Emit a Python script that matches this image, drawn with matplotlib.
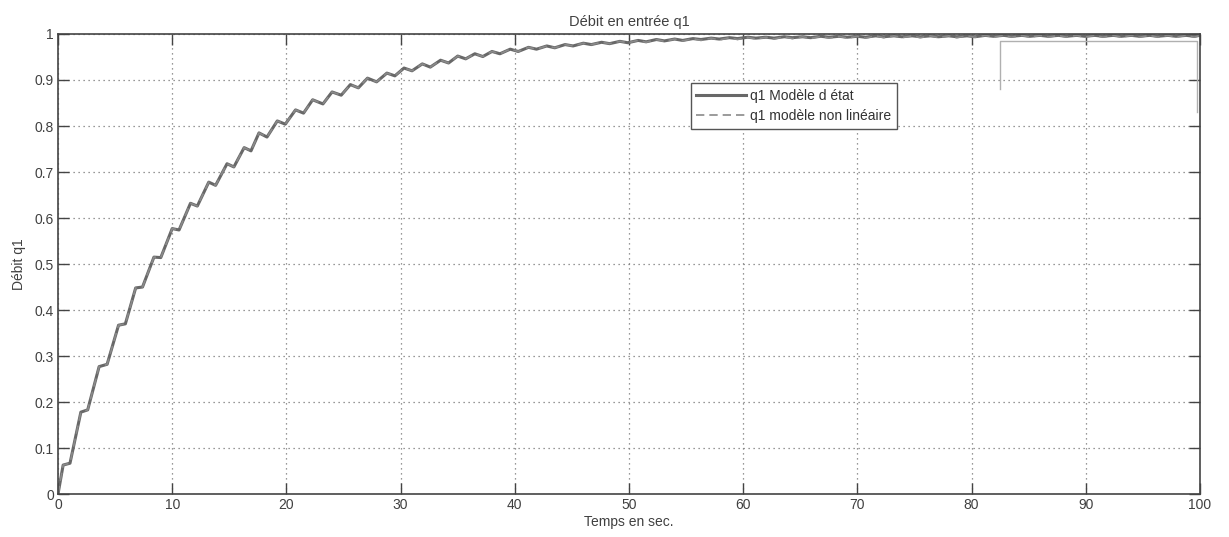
import numpy as np
import matplotlib
matplotlib.use("Agg")
from matplotlib import pyplot as plt
from matplotlib.patches import Rectangle

# ripple peaks / valleys (time in s, q1)
t_peak = [0.45, 2.0, 3.6, 5.3, 6.8, 8.4, 10.0, 11.6, 13.2, 14.8, 16.3, 17.6, 19.2, 20.8,
          22.3, 24.0, 25.6, 27.1, 28.8, 30.3, 31.9, 33.5, 35.0, 36.5, 38.0, 39.6, 41.2,
          42.8, 44.4, 46.0, 47.6, 49.2, 50.8, 52.4, 54.0, 55.6, 57.2, 58.8, 60.4, 62.0,
          63.6, 65.2, 66.8, 68.4, 70.0, 71.6, 73.2, 74.8, 76.4, 78.0, 79.6, 81.2, 82.8,
          84.4, 86.0, 87.6, 89.2, 90.8, 92.4, 94.0, 95.6, 97.2, 98.8]
y_peak = [0.063, 0.178, 0.277, 0.367, 0.448, 0.515, 0.577, 0.632, 0.678, 0.718, 0.753,
          0.785, 0.811, 0.835, 0.857, 0.874, 0.890, 0.904, 0.915, 0.926, 0.935, 0.943,
          0.952, 0.957, 0.962, 0.967, 0.971, 0.974, 0.977, 0.980, 0.982, 0.984, 0.986,
          0.988, 0.989, 0.990, 0.991, 0.992, 0.993, 0.993, 0.994, 0.994, 0.995, 0.995,
          0.995, 0.996, 0.996, 0.996, 0.996, 0.996, 0.996, 0.997, 0.997, 0.997, 0.997,
          0.997, 0.997, 0.997, 0.997, 0.997, 0.997, 0.997, 0.997]
t_valley = [1.05, 2.6, 4.3, 5.9, 7.4, 9.0, 10.6, 12.2, 13.8, 15.4, 16.9, 18.3, 19.9, 21.5,
            23.2, 24.8, 26.3, 27.9, 29.5, 31.0, 32.6, 34.2, 35.7, 37.2, 38.7, 40.3, 41.9,
            43.5, 45.1, 46.7, 48.3, 49.9, 51.5, 53.1, 54.7, 56.3, 57.9, 59.5, 61.1, 62.7,
            64.3, 65.9, 67.5, 69.1, 70.7, 72.3, 73.9, 75.5, 77.1, 78.7, 80.3, 81.9, 83.5,
            85.1, 86.7, 88.3, 89.9, 91.5, 93.1, 94.7, 96.3, 97.9, 99.5]
y_valley = [0.067, 0.183, 0.282, 0.370, 0.450, 0.514, 0.574, 0.626, 0.671, 0.711, 0.746,
            0.776, 0.804, 0.828, 0.848, 0.867, 0.883, 0.896, 0.909, 0.920, 0.928, 0.937,
            0.946, 0.951, 0.957, 0.962, 0.967, 0.970, 0.974, 0.977, 0.979, 0.981, 0.983,
            0.985, 0.986, 0.988, 0.989, 0.990, 0.991, 0.991, 0.992, 0.992, 0.993, 0.993,
            0.993, 0.994, 0.994, 0.994, 0.994, 0.994, 0.994, 0.995, 0.995, 0.995, 0.995,
            0.995, 0.995, 0.995, 0.995, 0.995, 0.995, 0.995, 0.995]
# non linear model: same shape, a touch lower in the tail
y_valley_nl = y_valley[:32] + [0.982, 0.984, 0.985, 0.986, 0.987, 0.988, 0.989, 0.989,
                               0.990, 0.990, 0.991, 0.991, 0.991, 0.992, 0.992, 0.992,
                               0.992, 0.992, 0.993, 0.993, 0.993, 0.993, 0.993, 0.993,
                               0.993, 0.993, 0.993, 0.993, 0.993, 0.993, 0.993]

t_end, y_end = 100.0, 0.997

def build(tp, yp, tv, yv):
    t = [0.0]
    y = [0.0]
    for a, b, c, d in zip(tp, yp, tv, yv):
        t += [a, c]
        y += [b, d]
    t.append(t_end)
    y.append(y_end)
    return np.array(t), np.array(y)

t1, q_etat = build(t_peak, y_peak, t_valley, y_valley)
t2, q_nl = build(t_peak, y_peak, t_valley, y_valley_nl)

plt.rcParams['font.family'] = ['Liberation Sans', 'DejaVu Sans']
txt = '#404040'

fig = plt.figure(figsize=(12.29, 5.37), dpi=100)
ax = fig.add_axes([0.0472, 0.080, 0.9292, 0.8567])

ax.plot(t1, q_etat, color='#686868', lw=2.2, solid_joinstyle='round',
        label='q1 Modèle d état')
ax.plot(t2, q_nl, color='#8a8a8a', lw=1.2, ls=(0, (5, 3)), label='q1 modèle non linéaire')

ax.set_xlim(0, 100)
ax.set_ylim(0, 1)
ax.set_xticks(np.arange(0, 101, 10))
ax.set_yticks(np.arange(0, 1.01, 0.1))
ax.set_xticklabels([str(v) for v in range(0, 101, 10)])
ax.set_yticklabels(['0'] + ['%.1f' % v for v in np.arange(0.1, 1.0, 0.1)] + ['1'])
ax.grid(True, ls=(0, (1, 3)), color='#777777', lw=0.9)
ax.tick_params(direction='in', length=8, width=1, top=True, right=True,
               colors='#444444', labelcolor=txt, labelsize=10, pad=3)
for s in ax.spines.values():
    s.set_color('#444444')
    s.set_linewidth(1.2)

# white box left over in the upper right corner
ax.add_patch(Rectangle((82.5, 0.83), 17.2, 0.155, facecolor='white',
                       edgecolor='none', zorder=1.5))
ax.plot([82.5, 82.5, 99.7, 99.7], [0.88, 0.985, 0.985, 0.83], color='#b0b0b0', lw=1,
        zorder=1.6)

ax.set_title('Débit en entrée q1', fontsize=10.5, color=txt, pad=6)
ax.set_xlabel('Temps en sec.', fontsize=10, color=txt, labelpad=2)
ax.set_ylabel('Débit q1', fontsize=10, color=txt, labelpad=6)

leg = ax.legend(loc='upper left', bbox_to_anchor=(0.554, 0.893), fontsize=10,
                handlelength=3.6, handletextpad=0.3, borderpad=0.4, labelspacing=0.45,
                fancybox=False, framealpha=1, edgecolor='#555555', borderaxespad=0)
for t in leg.get_texts():
    t.set_color('#333333')

fig.savefig('out.png', dpi=100)
